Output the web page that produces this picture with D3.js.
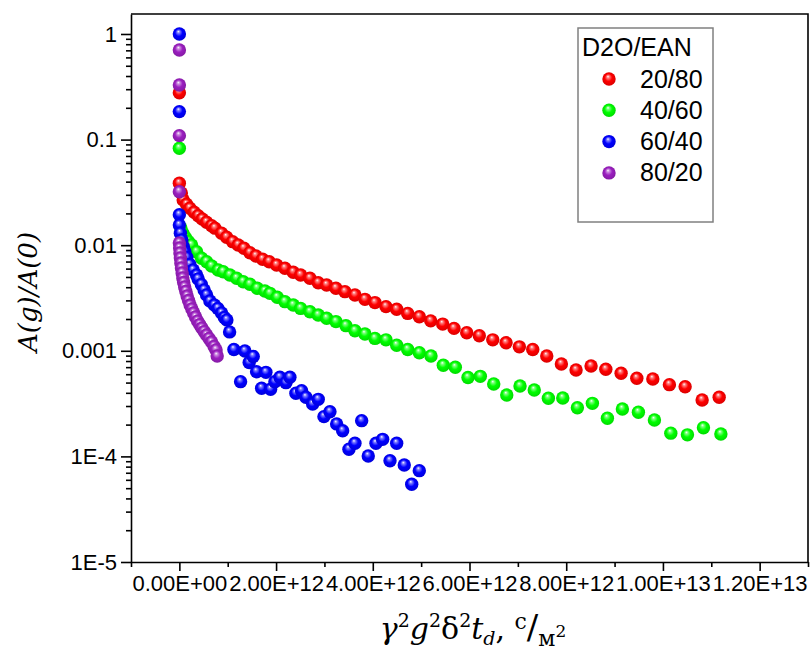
<!DOCTYPE html>
<html>
<head>
<meta charset="utf-8">
<script src="https://cdn.jsdelivr.net/npm/d3@7"></script>
<style>
  body { margin: 0; background: #fff; }
  svg text { font-family: "Liberation Sans", Arial, sans-serif; fill: #000; }
</style>
</head>
<body>
<div id="chart"></div>
<script>
// series names and colours (legend order)
const series = ["20/80", "40/60", "60/40", "80/20"];
const colors = ["#ff0000", "#00ff00", "#0000ff", "#9b1fc0"];

// x values in units of 1E12 (s/m^2), y = A(g)/A(0)
const x2080 = [0, 0, 0.041, 0.079, 0.149, 0.217, 0.306, 0.389, 0.472, 0.563, 0.666, 0.735, 0.873, 0.977, 1.101, 1.217, 1.335, 1.459, 1.583, 1.721, 1.858, 2.011, 2.183, 2.355, 2.508, 2.700, 2.872, 3.046, 3.238, 3.424, 3.631, 3.838, 4.045, 4.273, 4.494, 4.722, 4.962, 5.198, 5.446, 5.680, 5.943, 6.203, 6.481, 6.756, 7.031, 7.308, 7.598, 7.900, 8.204, 8.514, 8.819, 9.135, 9.460, 9.791, 10.134, 10.459, 10.811, 11.163];
const y2080 = [0.278, 0.0386, 0.0312, 0.0268, 0.0244, 0.0224, 0.0205, 0.0190, 0.0177, 0.0165, 0.0153, 0.0145, 0.0130, 0.0119, 0.0108, 0.01005, 0.00935, 0.00849, 0.00791, 0.00735, 0.00698, 0.00649, 0.00604, 0.00554, 0.00522, 0.00486, 0.00441, 0.00420, 0.00391, 0.00363, 0.00338, 0.00307, 0.00286, 0.00262, 0.00247, 0.00226, 0.00210, 0.00192, 0.00179, 0.00163, 0.00148, 0.00139, 0.00127, 0.00119, 0.00109, 0.00103, 0.000893, 0.000750, 0.000658, 0.000718, 0.000668, 0.000612, 0.000549, 0.000541, 0.000478, 0.000457, 0.000342, 0.000363];

const x4060 = [0, 0.031, 0.072, 0.124, 0.186, 0.252, 0.356, 0.459, 0.563, 0.666, 0.803, 0.906, 1.045, 1.184, 1.320, 1.459, 1.610, 1.769, 1.873, 2.024, 2.183, 2.355, 2.508, 2.700, 2.872, 3.046, 3.238, 3.445, 3.631, 3.838, 4.045, 4.273, 4.494, 4.722, 4.962, 5.204, 5.458, 5.707, 5.969, 6.224, 6.501, 6.770, 7.045, 7.339, 7.631, 7.929, 8.231, 8.541, 8.852, 9.162, 9.493, 9.824, 10.163, 10.507, 10.838, 11.198];
const y4060 = [0.0827, 0.01455, 0.0130, 0.01183, 0.01084, 0.01005, 0.00868, 0.00751, 0.00698, 0.00635, 0.00582, 0.00561, 0.00522, 0.00486, 0.00451, 0.00427, 0.00391, 0.00368, 0.00350, 0.00321, 0.00292, 0.00271, 0.00252, 0.00234, 0.00218, 0.00203, 0.00189, 0.00173, 0.00155, 0.00144, 0.00131, 0.00127, 0.00113, 0.00103, 0.000959, 0.000893, 0.000729, 0.000698, 0.000558, 0.000573, 0.000485, 0.000381, 0.000464, 0.000425, 0.000355, 0.000357, 0.000289, 0.000318, 0.000230, 0.000281, 0.000262, 0.000221, 0.000166, 0.000160, 0.000187, 0.000163];

const x6040 = [0, 0, 0, 0, 0.021, 0.052, 0.083, 0.114, 0.155, 0.217, 0.286, 0.356, 0.389, 0.455, 0.513, 0.563, 0.631, 0.724, 0.797, 0.873, 0.931, 0.983, 1.039, 1.128, 1.266, 1.355, 1.444, 1.527, 1.597, 1.701, 1.790, 1.887, 1.976, 2.079, 2.204, 2.286, 2.410, 2.528, 2.617, 2.756, 2.872, 2.990, 3.114, 3.253, 3.377, 3.507, 3.631, 3.770, 3.906, 4.066, 4.204, 4.356, 4.494, 4.651, 4.805, 4.962];
const y6040 = [1.0, 0.184, 0.0194, 0.0155, 0.0130, 0.0112, 0.00968, 0.00868, 0.00765, 0.00656, 0.00582, 0.00522, 0.00479, 0.00425, 0.00377, 0.00338, 0.00296, 0.00271, 0.00252, 0.00228, 0.00207, 0.00196, 0.00151, 0.00103, 0.000510, 0.000996, 0.000775, 0.000884, 0.000634, 0.000442, 0.000625, 0.000432, 0.000510, 0.000561, 0.000499, 0.000561, 0.000396, 0.000419, 0.000363, 0.000313, 0.000347, 0.000238, 0.000265, 0.000203, 0.000175, 0.000117, 0.000133, 0.000218, 0.000101, 0.000133, 0.000145, 0.0000910, 0.000133, 0.0000829, 0.0000545, 0.0000733];

const x8020 = [0, 0, 0, 0, 0, 0.006, 0.012, 0.021, 0.031, 0.043, 0.058, 0.072, 0.089, 0.110, 0.134, 0.161, 0.190, 0.223, 0.259, 0.296, 0.335, 0.377, 0.420, 0.466, 0.513, 0.563, 0.615, 0.666, 0.718, 0.759, 0.782];
const y8020 = [0.706, 0.329, 0.109, 0.0321, 0.0105, 0.00940, 0.00844, 0.00757, 0.00678, 0.00608, 0.00546, 0.00489, 0.00443, 0.00402, 0.00365, 0.00330, 0.00299, 0.00271, 0.00249, 0.00228, 0.00209, 0.00191, 0.00177, 0.00164, 0.00152, 0.00141, 0.00131, 0.00121, 0.00110, 0.00102, 0.000893];

// axis ticks
const xMajor = [0, 2, 4, 6, 8, 10, 12];
const xMinor = [-1, 1, 3, 5, 7, 9, 11, 13];
const yMajor = [1, 0.1, 0.01, 0.001, 1e-4, 1e-5];
const yLabels = ["1", "0.1", "0.01", "0.001", "1E-4", "1E-5"];

const allX = [x2080, x4060, x6040, x8020];
const allY = [y2080, y4060, y6040, y8020];

const margin = {top: 14, right: 4, bottom: 88, left: 131},
  width = 812 - margin.left - margin.right,
  height = 650 - margin.top - margin.bottom;

const root = d3.select("#chart")
  .append("svg")
    .attr("width", 812)
    .attr("height", 650);

const svg = root.append("g")
    .attr("transform", `translate(${margin.left},${margin.top})`);

const x = d3.scaleLinear()
  .domain([-1, 13])
  .range([0, width]);

const y = d3.scaleLog()
  .domain([1e-5, 1.546])
  .range([height, 0]);

// sphere-like gradients
const defs = root.append("defs");
colors.forEach((c, i) => {
  const g = defs.append("radialGradient")
    .attr("id", `ball${i}`)
    .attr("cx", "50%").attr("cy", "50%").attr("r", "55%")
    .attr("fx", "42%").attr("fy", "30%");
  g.append("stop").attr("offset", "0%").attr("stop-color", "#ffffff");
  g.append("stop").attr("offset", "18%").attr("stop-color", d3.interpolateRgb(c, "#ffffff")(0.5));
  g.append("stop").attr("offset", "50%").attr("stop-color", c);
  g.append("stop").attr("offset", "100%").attr("stop-color", d3.color(c).darker(0.5));
});

// x axis
const fmtX = v => {
  const s = (v * 1e12).toExponential(2).toUpperCase();
  return s.replace(/E([+-])(\d)$/, "E$10$2");
};
svg.append("g")
  .attr("transform", `translate(0,${height})`)
  .call(d3.axisBottom(x).tickValues(xMinor).tickSize(5).tickFormat(""))
  .call(g => g.select(".domain").remove());
const xAxis = svg.append("g")
  .attr("transform", `translate(0,${height})`)
  .call(d3.axisBottom(x).tickValues(xMajor).tickSize(9).tickSizeOuter(0).tickPadding(4).tickFormat(fmtX));
xAxis.selectAll("text").style("font-size", "22px");

// y axis
const minorY = [];
for (let e = -5; e <= 0; e++) {
  for (let k = 2; k <= 9; k++) {
    const v = k * Math.pow(10, e);
    if (v < 1.546) minorY.push(v);
  }
}
svg.append("g")
  .call(d3.axisLeft(y).tickValues(minorY).tickSize(5).tickFormat(""))
  .call(g => g.select(".domain").remove());
const yAxis = svg.append("g")
  .call(d3.axisLeft(y).tickValues(yMajor).tickSize(10).tickSizeOuter(0).tickPadding(4)
    .tickFormat((d, i) => yLabels[i]));
yAxis.selectAll("text").style("font-size", "22px");

svg.selectAll(".domain, .tick line").attr("stroke", "#000").attr("stroke-width", 1.6);

// top and right frame
svg.append("path")
  .attr("d", `M0,0H${width}V${height}`)
  .attr("fill", "none")
  .attr("stroke", "#000")
  .attr("stroke-width", 1.6);

// points
const plot = svg.append("g");
allX.forEach((xs, i) => {
  const pts = xs.map((v, j) => ({x: v, y: allY[i][j]}));
  plot.append("g")
    .selectAll("circle")
    .data(pts)
    .join("circle")
      .attr("cx", d => x(d.x))
      .attr("cy", d => y(d.y))
      .attr("r", 6.7)
      .attr("fill", `url(#ball${i})`);
});

// legend
const lg = svg.append("g").attr("transform", `translate(${578 - margin.left},${28 - margin.top})`);
lg.append("rect")
  .attr("width", 135)
  .attr("height", 194)
  .attr("fill", "#fff")
  .attr("stroke", "#808080")
  .attr("stroke-width", 1.5);
lg.append("text")
  .attr("x", 4)
  .attr("y", 28)
  .style("font-size", "25px")
  .text("D2O/EAN");
series.forEach((s, i) => {
  lg.append("circle")
    .attr("cx", 31)
    .attr("cy", 51 + i * 31.3)
    .attr("r", 6.7)
    .attr("fill", `url(#ball${i})`);
  lg.append("text")
    .attr("x", 62)
    .attr("y", 51 + i * 31.3 + 8.5)
    .style("font-size", "25px")
    .text(s);
});

// axis titles
root.append("text")
  .attr("transform", "translate(37,292) rotate(-90)")
  .style("text-anchor", "middle")
  .style("font-family", "'DejaVu Serif', 'Liberation Serif', serif")
  .style("font-style", "italic")
  .style("font-size", "26px")
  .text("A(g)/A(0)");

const xt = root.append("text")
  .attr("x", 473)
  .attr("y", 639)
  .style("text-anchor", "middle")
  .style("font-family", "'DejaVu Serif', 'Liberation Serif', serif")
  .style("font-size", "30px");
xt.append("tspan").style("font-style", "italic").text("γ");
xt.append("tspan").attr("dy", -12).style("font-size", "19px").text("2");
xt.append("tspan").attr("dy", 12).style("font-style", "italic").text("g");
xt.append("tspan").attr("dy", -12).style("font-size", "19px").text("2");
xt.append("tspan").attr("dy", 12).text("δ");
xt.append("tspan").attr("dy", -12).style("font-size", "19px").text("2");
xt.append("tspan").attr("dy", 12).style("font-style", "italic").text("t");
xt.append("tspan").attr("dy", 6).style("font-style", "italic").style("font-size", "19px").text("d");
xt.append("tspan").attr("dy", -6).text(", ");
xt.append("tspan").attr("dy", -10).style("font-size", "22px").text("c");
xt.append("tspan").attr("dy", 10).style("font-size", "34px").text("/");
xt.append("tspan").attr("dy", 7).style("font-size", "22px").text("м");
xt.append("tspan").attr("dy", -9).style("font-size", "17px").text("2");
</script>
</body>
</html>
